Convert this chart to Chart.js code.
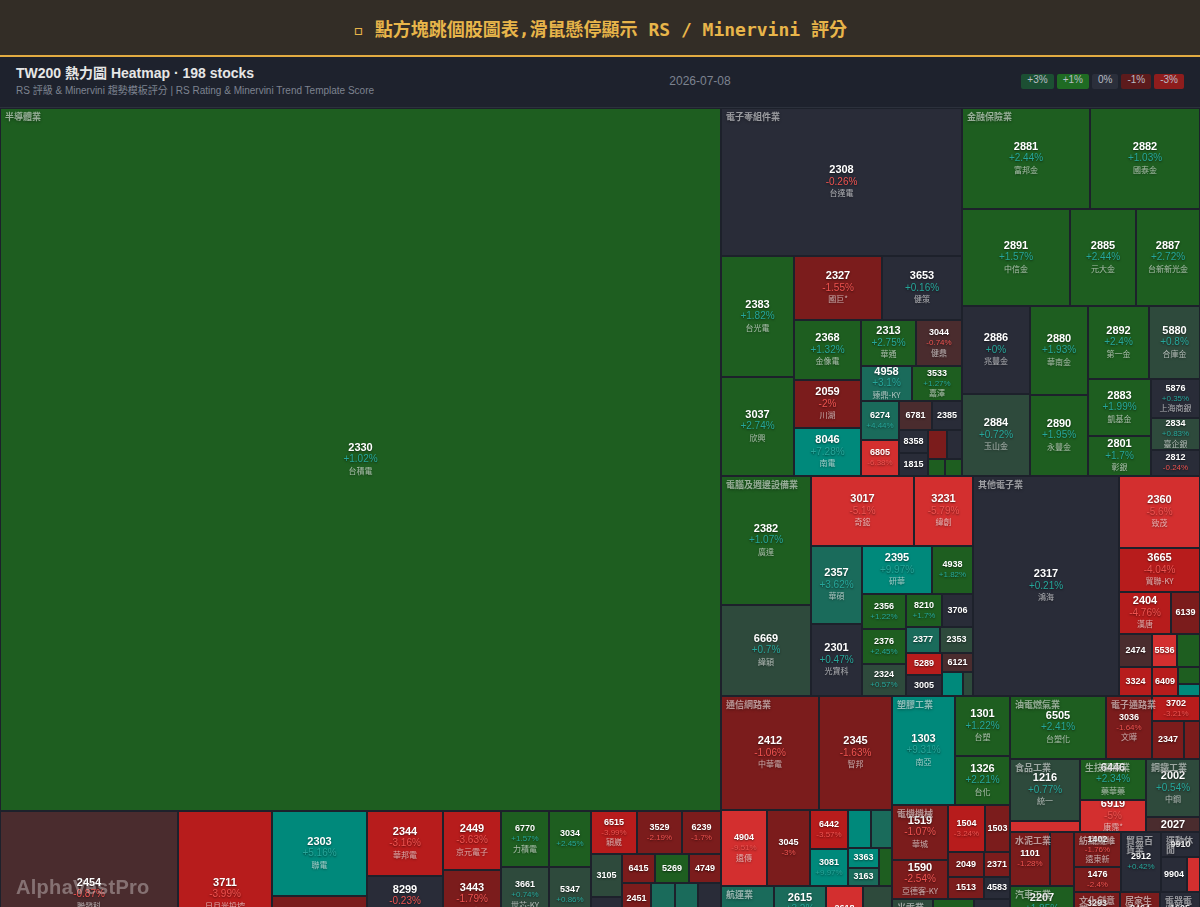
<!DOCTYPE html>
<html><head><meta charset="utf-8">
<script src="https://cdn.jsdelivr.net/npm/chart.js@4.4.1/dist/chart.umd.min.js"></script>
<style>
html,body{margin:0;padding:0;overflow:hidden;background:#1d212b;width:1200px;height:907px;}
#top{position:absolute;left:0;top:0;width:1200px;height:55px;background:#332d26;border-bottom:2px solid #e3ac42;
 display:flex;align-items:center;justify-content:center;color:#e8b54a;font:bold 18px "DejaVu Sans Mono","Noto Sans CJK TC",monospace;}
#sub{position:absolute;left:0;top:57px;width:1200px;height:50px;background:#1e222d;border-bottom:1px solid #2c313c;}
#ttl{position:absolute;left:16px;top:8px;font:bold 14px "Liberation Sans","Noto Sans CJK TC",sans-serif;color:#e6e6e6;line-height:17px;}
#st{position:absolute;left:16px;top:28px;font:10px "Liberation Sans","Noto Sans CJK TC",sans-serif;color:#7d8390;line-height:12px;}
#dt{position:absolute;left:640px;width:120px;text-align:center;top:17px;font:12px "Liberation Sans",sans-serif;color:#7d8390;line-height:15px;}
#lg{position:absolute;right:16px;top:17px;display:flex;gap:3px;}
#lg span{display:block;height:15px;line-height:15px;padding:0 6px;border-radius:2px;font:10px "Liberation Sans",sans-serif;color:#b8bcc4;}
#wrap{position:absolute;left:0;top:108px;width:1200px;height:870px;}
#wm{position:absolute;left:16px;top:876px;font:bold 20px "Liberation Sans",Arial,sans-serif;color:rgba(255,255,255,0.33);letter-spacing:0.3px;}
</style></head>
<body>
<div id="top">▫ 點方塊跳個股圖表,滑鼠懸停顯示 RS / Minervini 評分</div>
<div id="sub">
 <div id="ttl">TW200 熱力圖 Heatmap · 198 stocks</div>
 <div id="st">RS 評級 &amp; Minervini 趨勢模板評分 | RS Rating &amp; Minervini Trend Template Score</div>
 <div id="dt">2026-07-08</div>
 <div id="lg"></div>
</div>
<div id="wrap"><canvas id="c" width="1200" height="870"></canvas></div>
<div id="wm">AlphaVestPro</div>
<script>
// ---------- DATA ----------
const SECTORS = ['半導體業','電子零組件業','金融保險業','電腦及週邊設備業','其他電子業','通信網路業','航運業','塑膠工業','電機機械','光電業','油電燃氣業','電子通路業','食品工業','生技醫療業','鋼鐵工業','水泥工業','汽車工業','橡膠工業','紡織纖維','貿易百貨業','運動休閒','文化創意業','建材營造業','居家生活','電器電纜','其他業','玻璃陶瓷'];

const TICKERS = [
 // 半導體業
 '2330','2454','3711','2303','2408','2344','8299','2379','2449','3443','6488','6770','3661','5274','3034','5347','3035','6515','3529','6239','3105','5483','2337','6415','5269','4749','2451','4966','6147','6223','3131','3374','6510','3583','6643','8150','3260','6531','2441',
 // 電子零組件業
 '2308','2383','3037','2327','3653','2368','2059','8046','2313','3044','4958','3533','6274','6805','6781','2385','8358','1815','2492','6213','2367','3189',
 // 金融保險業
 '2881','2882','2891','2885','2887','2886','2884','2880','2890','2892','5880','2883','2801','5876','2834','2812',
 // 電腦及週邊設備業
 '2382','6669','3017','3231','2357','2301','2395','4938','2356','2376','2324','8210','3706','2377','2353','5289','3005','6121','2465','3013',
 // 其他電子業
 '2317','2360','3665','2404','6139','2474','3324','5536','6196','6409','8996','3030',
 // 通信網路業
 '2412','2345','4904','3045','6442','3081','4977','3596','3363','3163','2314',
 // 航運業
 '2603','2615','2609','2618','2610','2606','2637',
 // 塑膠 / 電機 / 光電
 '1303','1301','1326',
 '1519','1590','1504','1503','2049','1513','2371','4583',
 '3008','2409','3481','6176','2393',
 // others
 '6505','3036','3702','2347','8112','1216','1227','6446','6919','2002','2027','1101','1102','2207','2105','1402','1476','2912','9910','9904','8462','3293','2542','8464','1605','9945','1802'
];
const NAMES = [
 '台積電','聯發科','日月光投控','聯電','南亞科','華邦電','群聯','瑞昱','京元電子','創意','環球晶','力積電','世芯-KY','信驊','聯詠','世界','智原','穎崴','力旺','力成','穩懋','中美晶','旺宏','矽力*-KY','祥碩','新應材','創見','譜瑞-KY','頎邦','旺矽','弘塑','精材','精測','辛耘','M31','南茂','威剛','愛普*','超豐',
 '台達電','台光電','欣興','國巨*','健策','金像電','川湖','南電','華通','健鼎','臻鼎-KY','嘉澤','台燿','富世達','AES-KY','群光','金居','富喬','華新科','聯茂','燿華','景碩',
 '富邦金','國泰金','中信金','元大金','台新新光金','兆豐金','玉山金','華南金','永豐金','第一金','合庫金','凱基金','彰銀','上海商銀','臺企銀','台中銀',
 '廣達','緯穎','奇鋐','緯創','華碩','光寶科','研華','和碩','英業達','技嘉','仁寶','勤誠','神達','微星','宏碁','宜鼎','神基','新普','麗臺','晟銘電',
 '鴻海','致茂','貿聯-KY','漢唐','亞翔','可成','雙鴻','聖暉*','帆宣','旭隼','高力','德律',
 '中華電','智邦','遠傳','台灣大','光聖','聯亞','眾達-KY','智易','上詮','波若威','台揚',
 '長榮','萬海','陽明','長榮航','華航','裕民','慧洋-KY',
 '南亞','台塑','台化',
 '華城','亞德客-KY','東元','士電','上銀','中興電','大同','台灣精銳',
 '大立光','友達','群創','瑞儀','億光',
 '台塑化','文曄','大聯大','聯強','至上','統一','佳格','藥華藥','康霈*','中鋼','大成鋼','台泥','亞泥','和泰車','正新','遠東新','儒鴻','統一超','豐泰','寶成','柏文','鈊象','興富發','億豐','華新','潤泰新','台玻'
];
const SECTOR_OF = [
 0,0,0,0,0,0,0,0,0,0,0,0,0,0,0,0,0,0,0,0,0,0,0,0,0,0,0,0,0,0,0,0,0,0,0,0,0,0,0,
 1,1,1,1,1,1,1,1,1,1,1,1,1,1,1,1,1,1,1,1,1,1,
 2,2,2,2,2,2,2,2,2,2,2,2,2,2,2,2,
 3,3,3,3,3,3,3,3,3,3,3,3,3,3,3,3,3,3,3,3,
 4,4,4,4,4,4,4,4,4,4,4,4,
 5,5,5,5,5,5,5,5,5,5,5,
 6,6,6,6,6,6,6,
 7,7,7,
 8,8,8,8,8,8,8,8,
 9,9,9,9,9,
 10,11,11,11,11,12,12,13,13,14,14,15,15,16,17,18,18,19,20,20,20,21,22,23,24,25,26
];
const CAPS = [
 506142,29736,15792,8084,7708,5016,3876,3870,3410,3363,2793,2700,2690,2674,2360,2350,2346,1978,1914,1656,1327,1245,1240,985,978,944,940,938,930,700,695,690,648,647,646,645,644,643,642,
 35668,8833,7227,5632,5120,4020,3230,3200,2530,2116,1810,1775,1482,1349,926,869,682,652,560,440,283,280,
 12928,11110,10476,6402,6208,5960,5532,5104,4698,4410,3749,3565,2480,1911,1568,1274,
 11610,8190,7210,4165,3978,3672,3384,1968,1540,1535,1408,1190,1040,867,854,792,756,599,504,252,
 32010,5832,3605,2158,1204,1089,957,825,759,754,374,264,
 11172,8379,3519,3290,1482,1425,880,811,620,574,520,
 4895,2395,2318,2035,1623,1214,1213,
 6813,3300,2695,
 3053,2165,1740,1174,900,792,663,559,
 3239,2050,1775,1110,1109,
 6080,2867,1224,1200,600,4371,776,2718,2063,3132,810,2187,1296,3032,2903,1651,1139,2400,995,914,431,2024,1932,1760,1738,1700,1639
];
const CHANGES = [
 1.02,-0.87,-3.99,5.16,-1.52,-3.16,-0.23,0.31,-3.63,-1.79,1.24,1.57,0.74,2.08,2.45,0.86,-0.62,-3.99,-2.19,-1.7,0.62,0.18,-0.35,-1.84,1.46,-2.21,-1.18,-0.41,0.83,3.82,3.37,0.12,1.12,-0.84,2.2,-1.31,0.42,-2.05,0.93,
 -0.26,1.82,2.74,-1.55,0.16,1.32,-2,7.28,2.75,-0.74,3.1,1.27,4.44,-6.38,-0.81,0.12,0.21,-0.15,-2.1,0.28,1.62,1.35,
 2.44,1.03,1.57,2.44,2.72,0,0.72,1.93,1.95,2.4,0.8,1.99,1.7,0.35,0.83,-0.24,
 1.07,0.7,-5.1,-5.79,3.62,0.47,9.97,1.82,1.22,2.45,0.57,1.7,0.22,3.46,0.63,-4.12,0.05,-0.72,6.1,0.66,
 0.21,-5.6,-4.04,-4.76,-2.47,-0.83,-4.05,-5.3,1.52,-3.48,1.9,5.4,
 -1.06,-1.63,-9.51,-3,-3.57,9.97,6.2,3.3,5.8,4.1,2.0,
 3.5,3.2,2.8,-5.4,0.8,1.2,-0.6,
 9.31,1.22,2.21,
 -1.07,-2.54,-3.24,-2.1,-1.9,-1.4,-2.3,0.3,
 0.8,1.8,0.2,0.5,-0.4,
 2.41,-1.64,-3.21,-1.5,-2.2,0.77,-5.2,2.34,-5,0.54,-0.6,-1.28,-1.9,1.85,-0.5,-1.76,-2.4,0.42,0.1,-0.2,-5.5,-1.5,0.3,-1.2,0.1,0.6,-0.9
];
const LEGEND_LABELS = ['+3%','+1%','0%','-1%','-3%'];
const LEGEND_COLORS = ['#1c4f33','#1f6b23','#2b2f3b','#5c1b1c','#8e1d1d'];

document.getElementById('lg').innerHTML = LEGEND_LABELS.map((l, k) => '<span style="background:' + LEGEND_COLORS[k] + '">' + l + '</span>').join('');

// ---------- LAYOUT (squarified) ----------
function squarify(nodes, x0, y0, x1, y1) {
  let value = nodes.reduce((a, n) => a + n.value, 0);
  let i0 = 0, i1 = 0;
  const n = nodes.length;
  while (i0 < n) {
    const dx = x1 - x0, dy = y1 - y0;
    let sum = nodes[i1++].value, minV = sum, maxV = sum;
    const alpha = Math.max(dy / dx, dx / dy) / value;
    let beta = sum * sum * alpha;
    let minRatio = Math.max(maxV / beta, beta / minV);
    for (; i1 < n; ++i1) {
      const v = nodes[i1].value;
      sum += v;
      if (v < minV) minV = v;
      if (v > maxV) maxV = v;
      beta = sum * sum * alpha;
      const r = Math.max(maxV / beta, beta / minV);
      if (r > minRatio) { sum -= v; break; }
      minRatio = r;
    }
    const row = nodes.slice(i0, i1);
    if (dx < dy) {
      const h = value ? dy * sum / value : dy;
      let x = x0;
      row.forEach(nd => { const w = dx * nd.value / sum; nd.rect = [x, y0, x + w, y0 + h]; x += w; });
      y0 += h;
    } else {
      const w = value ? dx * sum / value : dx;
      let y = y0;
      row.forEach(nd => { const h = dy * nd.value / sum; nd.rect = [x0, y, x0 + w, y + h]; y += h; });
      x0 += w;
    }
    value -= sum; i0 = i1;
  }
}

function tileColor(c) {
  if (c >= 5) return '#00897b';
  if (c >= 3) return '#1a6b5b';
  if (c >= 1) return '#1e5e20';
  if (c >= 0.5) return '#2e4a3c';
  if (c > -0.5) return '#292c38';
  if (c > -1) return '#4a2c2e';
  if (c >= -3) return '#7b1c1c';
  if (c > -5) return '#b71c1c';
  return '#d32f2f';
}
function fmt(c) { return (c >= 0 ? '+' : '') + c + '%'; }
const SANS = '"Liberation Sans", Arial, "Noto Sans CJK TC", sans-serif';
const CJK = '"Noto Sans CJK TC", "Liberation Sans", sans-serif';

const treemapPlugin = {
  id: 'treemapPainter',
  afterDatasetsDraw(chart) {
    const ctx = chart.ctx, xs = chart.scales.x, ys = chart.scales.y;
    const groups = SECTORS.map(name => ({ name, children: [], value: 0 }));
    TICKERS.forEach((t, i) => groups[SECTOR_OF[i]].children.push({ i, value: CAPS[i] }));
    groups.forEach(g => { g.value = g.children.reduce((a, c) => a + c.value, 0); g.children.sort((a, b) => b.value - a.value); });
    const gs = groups.filter(g => g.value > 0).sort((a, b) => b.value - a.value);
    squarify(gs, xs.min, ys.min, xs.max, ys.max);
    gs.forEach(g => squarify(g.children, g.rect[0], g.rect[1], g.rect[2], g.rect[3]));
    const px = r => {
      const a = Math.round(xs.getPixelForValue(r[0])), c = Math.round(xs.getPixelForValue(r[2]));
      const b = Math.round(ys.getPixelForValue(r[1])), d = Math.round(ys.getPixelForValue(r[3]));
      return { x0: a, y0: b, x1: c, y1: d, lw: xs.getPixelForValue(r[2]) - xs.getPixelForValue(r[0]) };
    };
    ctx.save();
    gs.forEach(g => g.children.forEach(nd => {
      const p = px(nd.rect);
      nd.p = p;
      ctx.fillStyle = tileColor(CHANGES[nd.i]);
      ctx.fillRect(p.x0 + 1, p.y0 + 1, p.x1 - p.x0 - 2, p.y1 - p.y0 - 2);
    }));
    ctx.textAlign = 'center';
    ctx.textBaseline = 'middle';
    gs.forEach(g => g.children.forEach(nd => {
      const p = nd.p, rx = p.x0 + 1, ry = p.y0 + 1, rw = p.x1 - p.x0 - 2, rh = p.y1 - p.y0 - 2;
      const tk = TICKERS[nd.i];
      if (!tk || rw < 22.5 || rh < 11) return;
      const big = p.lw >= 50.5;
      const showPct = rw >= 33 && rw * rh >= 1000;
      const showName = showPct && rw >= 44 && rh >= 28;
      const cx = rx + rw / 2, cy = ry + rh / 2;
      let yT = cy, yP = cy, yN = cy;
      if (showName) { yT = cy - (big ? 12 : 10); yP = cy; yN = cy + (big ? 11 : 9.5); }
      else if (showPct) { yT = cy - (big ? 6 : 5.2); yP = cy + (big ? 6 : 5.2); }
      ctx.save();
      ctx.beginPath(); ctx.rect(rx, ry, rw, rh); ctx.clip();
      ctx.shadowColor = 'rgba(0,0,0,0.55)'; ctx.shadowBlur = 2; ctx.shadowOffsetY = 1;
      ctx.fillStyle = '#ffffff';
      ctx.font = 'bold ' + (big ? 11 : 9) + 'px ' + SANS;
      ctx.fillText(tk, cx, yT);
      if (showPct) {
        const c = CHANGES[nd.i];
        ctx.fillStyle = c >= 0 ? '#26a69a' : '#ef5350';
        ctx.font = (big ? 10 : 8) + 'px ' + SANS;
        ctx.fillText(fmt(c), cx, yP);
      }
      if (showName) {
        ctx.fillStyle = 'rgba(255,255,255,0.62)';
        ctx.font = '8px ' + CJK;
        ctx.fillText(NAMES[nd.i], cx, yN);
      }
      ctx.restore();
    }));
    ctx.textAlign = 'left';
    gs.forEach(g => {
      const p = px(g.rect);
      const gw = p.x1 - p.x0;
      ctx.save();
      ctx.beginPath(); ctx.rect(p.x0, p.y0, gw, p.y1 - p.y0); ctx.clip();
      ctx.font = 'bold 9px ' + CJK;
      ctx.shadowColor = 'rgba(0,0,0,0.7)'; ctx.shadowBlur = 3; ctx.shadowOffsetY = 1;
      ctx.fillStyle = 'rgba(255,255,255,0.55)';
      const maxW = gw - 6;
      const lines = []; let cur = '';
      for (const ch of g.name) {
        if (cur && ctx.measureText(cur + ch).width > maxW) { lines.push(cur); cur = ch; } else cur += ch;
      }
      lines.push(cur);
      lines.forEach((ln, k) => ctx.fillText(ln, p.x0 + 5, p.y0 + 9 + k * 9));
      ctx.restore();
    });
    ctx.restore();
  }
};

new Chart(document.getElementById('c'), {
  type: 'scatter',
  data: { datasets: [{ data: [], pointRadius: 0 }] },
  options: {
    responsive: false, devicePixelRatio: 1, animation: false, events: [],
    layout: { padding: 0 },
    plugins: { legend: { display: false }, tooltip: { enabled: false } },
    scales: {
      x: { type: 'linear', min: 0, max: 1200, display: false },
      y: { type: 'linear', min: 0, max: 870, reverse: true, display: false }
    }
  },
  plugins: [treemapPlugin]
});
</script>
</body></html>
